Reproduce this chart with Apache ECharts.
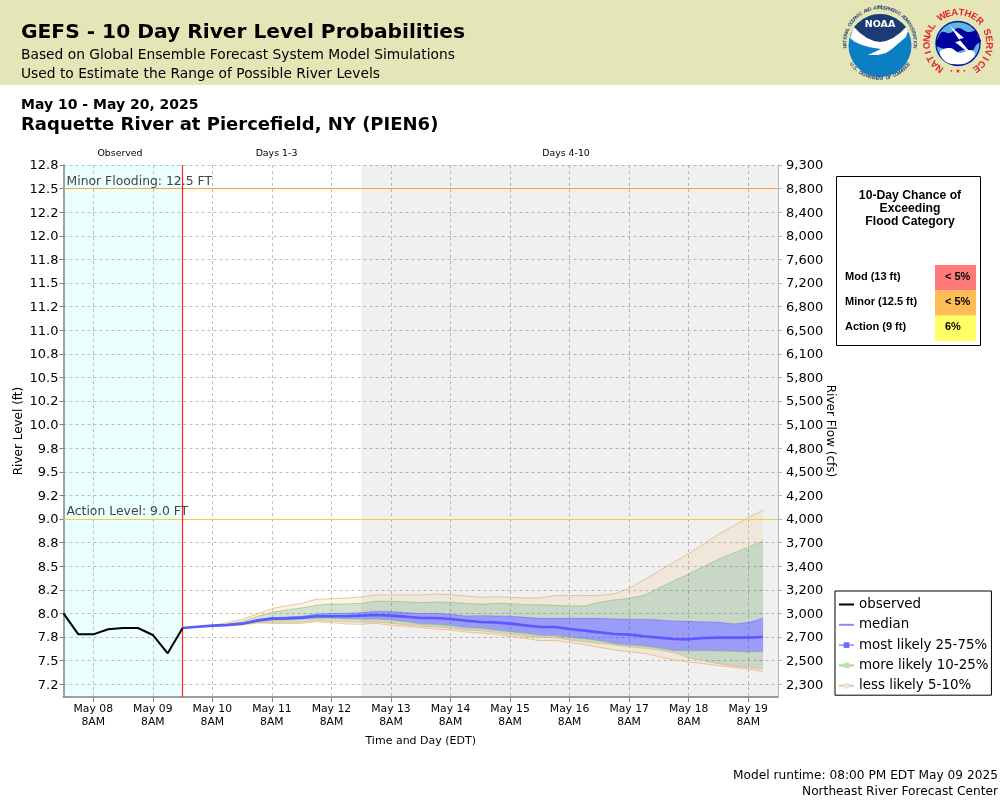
<!DOCTYPE html>
<html>
<head>
<meta charset="utf-8">
<title>GEFS - 10 Day River Level Probabilities</title>
<script src="https://cdn.jsdelivr.net/npm/echarts@6/dist/echarts.min.js"></script>
<style>
html, body { margin: 0; padding: 0; background: #fff; }
#chart { width: 1000px; height: 800px; }
</style>
</head>
<body>
<div id="chart"></div>
<script>
// river level ticks, the labels are rounded the way the original plot does it
var levelTicks = [12.75, 12.5, 12.25, 12, 11.75, 11.5, 11.25, 11, 10.75, 10.5, 10.25, 10, 9.75, 9.5, 9.25, 9, 8.75, 8.5, 8.25, 8, 7.75, 7.5, 7.25];
var levelLabels = ['12.8', '12.5', '12.2', '12.0', '11.8', '11.5', '11.2', '11.0', '10.8', '10.5', '10.2', '10.0', '9.8', '9.5', '9.2', '9.0', '8.8', '8.5', '8.2', '8.0', '7.8', '7.5', '7.2'];
var flowLabels = ['9,300', '8,800', '8,400', '8,000', '7,600', '7,200', '6,800', '6,500', '6,100', '5,800', '5,500', '5,100', '4,800', '4,500', '4,200', '4,000', '3,700', '3,400', '3,200', '3,000', '2,700', '2,500', '2,300'];

// x is a 6 hourly category axis from May 07 8PM to May 19 8PM EDT, the day ticks fall on 8AM
var dayLabels = ['May 08', 'May 09', 'May 10', 'May 11', 'May 12', 'May 13', 'May 14', 'May 15', 'May 16', 'May 17', 'May 18', 'May 19'];
var stepCount = 49;
var runtimeStep = 8;
var days13EndStep = 20;

// 6 hourly
var observed = [8.0, 7.778, 7.778, 7.831, 7.845, 7.845, 7.771, 7.577, 7.845];
var p95 = [7.845, 7.859, 7.873, 7.902, 7.937, 7.993, 8.050, 8.082, 8.106, 8.149, 8.156, 8.163, 8.174, 8.195, 8.195, 8.195, 8.195, 8.205, 8.198, 8.184, 8.170, 8.177, 8.170, 8.163, 8.163, 8.188, 8.188, 8.188, 8.191, 8.205, 8.265, 8.354, 8.449, 8.541, 8.633, 8.735, 8.837, 8.926, 9.014, 9.095];
var p90 = [7.845, 7.859, 7.873, 7.888, 7.912, 7.965, 8.011, 8.036, 8.057, 8.085, 8.099, 8.099, 8.106, 8.128, 8.128, 8.121, 8.113, 8.121, 8.117, 8.106, 8.096, 8.106, 8.103, 8.092, 8.092, 8.085, 8.078, 8.078, 8.117, 8.142, 8.159, 8.191, 8.269, 8.343, 8.417, 8.495, 8.573, 8.636, 8.700, 8.767];
var p75 = [7.845, 7.859, 7.873, 7.884, 7.898, 7.933, 7.955, 7.962, 7.969, 7.993, 8.000, 8.000, 8.008, 8.022, 8.018, 8.008, 7.997, 8.000, 7.990, 7.972, 7.976, 7.972, 7.969, 7.958, 7.947, 7.947, 7.947, 7.947, 7.947, 7.940, 7.937, 7.937, 7.930, 7.919, 7.916, 7.909, 7.905, 7.888, 7.902, 7.947];
var p50 = [7.845, 7.859, 7.870, 7.877, 7.891, 7.923, 7.944, 7.947, 7.955, 7.969, 7.969, 7.969, 7.976, 7.983, 7.976, 7.965, 7.951, 7.951, 7.940, 7.923, 7.909, 7.905, 7.891, 7.873, 7.856, 7.856, 7.835, 7.817, 7.799, 7.782, 7.775, 7.757, 7.743, 7.729, 7.725, 7.739, 7.743, 7.743, 7.743, 7.750];
var p25 = [7.845, 7.856, 7.866, 7.873, 7.884, 7.912, 7.926, 7.930, 7.937, 7.947, 7.947, 7.940, 7.937, 7.940, 7.930, 7.912, 7.888, 7.884, 7.870, 7.849, 7.842, 7.824, 7.806, 7.789, 7.767, 7.764, 7.746, 7.732, 7.711, 7.679, 7.665, 7.654, 7.633, 7.605, 7.605, 7.605, 7.602, 7.598, 7.591, 7.594];
var p10 = [7.845, 7.856, 7.863, 7.870, 7.880, 7.905, 7.905, 7.905, 7.909, 7.926, 7.919, 7.912, 7.905, 7.909, 7.895, 7.880, 7.866, 7.859, 7.845, 7.824, 7.817, 7.799, 7.778, 7.760, 7.746, 7.746, 7.718, 7.700, 7.683, 7.665, 7.647, 7.630, 7.612, 7.584, 7.531, 7.499, 7.467, 7.443, 7.428, 7.411];
var p5 = [7.845, 7.856, 7.859, 7.866, 7.877, 7.898, 7.895, 7.891, 7.895, 7.912, 7.902, 7.888, 7.884, 7.895, 7.873, 7.863, 7.849, 7.835, 7.824, 7.803, 7.792, 7.778, 7.757, 7.736, 7.711, 7.714, 7.690, 7.669, 7.640, 7.612, 7.594, 7.577, 7.541, 7.506, 7.485, 7.467, 7.446, 7.428, 7.411, 7.383];

var floodRows = ['Mod (13 ft)', 'Minor (12.5 ft)', 'Action (9 ft)'];
var floodChance = ['< 5%', '< 5%', '6%'];
var floodColors = ['#ff7b7b', '#ffbb55', '#ffff66'];

var SANS = 'DejaVu Sans';

// category names are just the step numbers, every 4th step from 2 is a labelled day
var steps = [];
for (var s = 0; s < stepCount; s++)
	steps.push(String(s));
function isDayTick(index) {
	return index % 4 === 2;
}

function pairs(start, values) {
	return values.map(function (v, i) { return [start + i, v]; });
}
// a stacked band is the difference of two percentile lines
function band(upper, lower) {
	return upper.map(function (v, i) { return [runtimeStep + i, v - lower[i]]; });
}
function bandSeries(name, upper, lower, fill, edge) {
	return {
		name: name, type: 'line', stack: 'spread', data: band(upper, lower), symbol: 'rect', symbolSize: 6, showSymbol: false,
		silent: true, z: 3, lineStyle: { color: edge, width: 1 }, itemStyle: { color: edge }, areaStyle: { color: fill, opacity: 1 }
	};
}

var BLUE_FILL = 'rgba(60,60,255,0.48)', BLUE_EDGE = 'rgba(90,90,255,0.45)';
var GREEN_FILL = 'rgba(85,140,70,0.25)', GREEN_EDGE = 'rgba(120,190,100,0.55)';
var TAN_FILL = 'rgba(240,190,130,0.2)', TAN_EDGE = 'rgba(225,180,130,0.75)';

// ---- page furniture
function txt(x, y, text, size, weight, extra) {
	var style = { x: x, y: y, text: text, fontFamily: SANS, fontSize: size, fontWeight: weight || 'normal', fill: '#000', verticalAlign: 'middle' };
	for (var k in (extra || {})) style[k] = extra[k];
	return { type: 'text', silent: true, z: 20, style: style };
}
// single letters around a circle, the angle is in degrees clockwise from twelve o'clock
function arcText(cx, cy, r, text, a0, a1, size, color, family) {
	var out = [];
	for (var i = 0; i < text.length; i++) {
		var a = a0 + (a1 - a0) * (i + 0.5) / text.length;
		var rad = a * Math.PI / 180;
		out.push({
			type: 'text', silent: true, z: 22, x: cx + r * Math.sin(rad), y: cy - r * Math.cos(rad),
			rotation: -(a1 < a0 ? rad - Math.PI : rad),
			style: { text: text.charAt(i), x: 0, y: 0, fontFamily: family, fontSize: size, fontWeight: 'bold', fill: color, align: 'center', verticalAlign: 'middle' }
		});
	}
	return out;
}
function poly(points, fill, z, smooth) {
	return { type: 'polygon', silent: true, z: z || 21, shape: { points: points, smooth: smooth || 0 }, style: { fill: fill } };
}

var graphics = [
	{ type: 'rect', silent: true, z: 0, shape: { x: 0, y: 0, width: 1000, height: 85 }, style: { fill: '#e5e6b8' } },
	txt(21, 33, 'GEFS - 10 Day River Level Probabilities', 20.2, 'bold'),
	txt(21, 55, 'Based on Global Ensemble Forecast System Model Simulations', 13.8),
	txt(21, 74, 'Used to Estimate the Range of Possible River Levels', 13.8),
	txt(21, 105, 'May 10 - May 20, 2025', 14, 'bold'),
	txt(21, 125.5, 'Raquette River at Piercefield, NY (PIEN6)', 18, 'bold'),
	txt(120, 154, 'Observed', 9.4, 'normal', { align: 'center' }),
	txt(276.5, 154, 'Days 1-3', 9.4, 'normal', { align: 'center' }),
	txt(566, 154, 'Days 4-10', 9.4, 'normal', { align: 'center' }),
	txt(998, 775.5, 'Model runtime: 08:00 PM EDT May 09 2025', 12.2, 'normal', { align: 'right' }),
	txt(998, 791.5, 'Northeast River Forecast Center', 12.2, 'normal', { align: 'right' }),
	// flood category box
	{ type: 'rect', silent: true, z: 10, shape: { x: 836.5, y: 176.5, width: 144, height: 169 }, style: { fill: '#fff', stroke: '#000', lineWidth: 1 } }
];
['10-Day Chance of', 'Exceeding', 'Flood Category'].forEach(function (line, i) {
	graphics.push(txt(910, 196 + i * 13, line, 12.2, 'bold', { align: 'center', fontFamily: 'Liberation Sans' }));
});
floodRows.forEach(function (row, i) {
	var top = 265 + i * 25.2;
	graphics.push({ type: 'rect', silent: true, z: 11, shape: { x: 935, y: top, width: 41, height: 25.5 }, style: { fill: floodColors[i] } });
	graphics.push(txt(845, top + 11.5, row, 11, 'bold', { fontFamily: 'Liberation Sans' }));
	graphics.push(txt(945, top + 11.5, floodChance[i], 11, 'bold', { fontFamily: 'Liberation Sans' }));
});

// NOAA seal
graphics.push({ type: 'circle', silent: true, z: 21, shape: { cx: 880, cy: 45.5, r: 31.5 }, style: { fill: '#0a7fc4' } });
graphics.push(poly([[854, 27], [852.5, 31], [850, 38], [855, 42], [862, 45], [871, 47.5], [881, 49], [868, 55], [878, 55], [886, 53], [892, 49], [900, 42], [906, 37], [908, 31], [906, 27]], '#fff', 22));
graphics.push(poly([[854, 27], [858, 23], [864, 18.5], [872, 15], [880, 14], [888, 15], [896, 18.5], [902, 23], [906, 27], [900, 33], [893, 38], [886, 41], [880, 42], [874, 41], [867, 38], [860, 33]], '#1e3a74', 23));
graphics.push({ type: 'text', silent: true, z: 24, style: { x: 880, y: 25, text: 'NOAA', fontFamily: SANS, fontWeight: 'bold', fontSize: 9.5, fill: '#fff', align: 'center', verticalAlign: 'middle' } });
graphics = graphics.concat(arcText(880, 43, 35, 'NATIONAL OCEANIC AND ATMOSPHERIC ADMINISTRATION', -98, 98, 5, '#3b4c78', 'Liberation Sans'));
graphics = graphics.concat(arcText(880, 43, 35.5, 'U.S. DEPARTMENT OF COMMERCE', 235, 125, 5, '#3b4c78', 'Liberation Sans'));

// NWS seal
graphics.push({ type: 'circle', silent: true, z: 21, shape: { cx: 958, cy: 43.5, r: 22 }, style: { fill: '#5cb6dd', stroke: '#14149a', lineWidth: 1.4 } });
graphics.push(poly([[938, 38], [942, 32], [950, 33], [958, 28], [968, 32], [976, 31], [978, 37], [981, 41], [976, 45], [973, 50], [964, 50], [952, 53], [944, 49], [936, 45]], '#00009c', 22, 0.4));
graphics.push(poly([[940, 52], [950, 48], [960, 53], [970, 50], [975, 54], [968, 62], [958, 64], [946, 62]], '#fff', 22, 0.4));
graphics.push(poly([[950, 26], [964, 38], [959, 39], [975, 58], [955, 42], [960, 41]], '#fff', 23));
graphics = graphics.concat(arcText(958, 43.5, 31, 'NATIONAL WEATHER SERVICE', -150, 150, 9.5, '#e2232a', 'Liberation Sans'));
graphics.push({ type: 'text', silent: true, z: 22, style: { x: 958, y: 71, text: '\u2022 \u2605 \u2022', fontFamily: SANS, fontSize: 6, fill: '#e2232a', align: 'center', verticalAlign: 'middle' } });

// ---- chart
var chart = echarts.init(document.getElementById('chart'));
var gridLine = { show: true, lineStyle: { color: '#c0c0c0', type: [3, 3], width: 1 } };
var axisColor = '#808080';
// rich text so the labels can sit a pixel lower, on the tick
var tickRich = { t: { fontSize: 13, color: '#000', padding: [2, 0, 0, 0] } };

chart.setOption({
	animation: false,
	textStyle: { fontFamily: SANS },
	graphic: graphics,
	grid: { left: 63.5, right: 222, top: 165, bottom: 103, containLabel: false, outerBoundsMode: 'none' },
	xAxis: {
		type: 'category', data: steps, boundaryGap: false,
		name: 'Time and Day (EDT)', nameLocation: 'middle', nameGap: 39, nameTextStyle: { color: '#000', fontSize: 11 },
		axisLine: { lineStyle: { color: axisColor, width: 1.5 } },
		axisTick: { show: true, length: 5, interval: isDayTick, lineStyle: { color: axisColor } },
		splitLine: { show: true, interval: isDayTick, lineStyle: gridLine.lineStyle },
		axisLabel: {
			interval: isDayTick, color: '#000', fontSize: 10.8, lineHeight: 13, margin: 6, hideOverlap: false,
			formatter: function (value) { return dayLabels[(+value - 2) / 4] + '\n8AM'; }
		}
	},
	yAxis: [{
		type: 'value', min: 7.114, max: 12.75, position: 'left',
		name: 'River Level (ft)', nameLocation: 'middle', nameGap: 39, nameMoveOverlap: false, nameTextStyle: { color: '#000', fontSize: 12 },
		axisLine: { show: true, lineStyle: { color: axisColor, width: 1.5 } },
		axisTick: { show: true, length: 4, customValues: levelTicks, lineStyle: { color: axisColor } },
		splitLine: gridLine,
		axisLabel: {
			customValues: levelTicks, margin: 5, rich: tickRich,
			formatter: function (value) { return '{t|' + levelLabels[levelTicks.indexOf(value)] + '}'; }
		}
	}, {
		type: 'value', min: 7.114, max: 12.75, position: 'right',
		name: 'River Flow (cfs)', nameLocation: 'middle', nameGap: 46, nameMoveOverlap: false, nameRotate: -90, nameTextStyle: { color: '#000', fontSize: 12 },
		axisLine: { show: true, lineStyle: { color: '#b5b5b5', width: 1 } },
		axisTick: { show: true, length: 4, customValues: levelTicks, lineStyle: { color: '#b5b5b5' } },
		splitLine: { show: false },
		axisLabel: {
			customValues: levelTicks, margin: 8, rich: tickRich,
			formatter: function (value) { return '{t|' + flowLabels[levelTicks.indexOf(value)] + '}'; }
		}
	}],
	legend: {
		show: true, orient: 'vertical', left: 835, top: 591,
		data: [
			{ name: 'observed', itemStyle: { opacity: 0 } },
			{ name: 'median', itemStyle: { opacity: 0 }, lineStyle: { color: '#8a8aff', width: 2 } },
			{ name: 'most likely 25-75%', itemStyle: { color: '#6a6aff' }, lineStyle: { color: '#a5a5ff', width: 2 } },
			{ name: 'more likely 10-25%', itemStyle: { color: '#bfe0b5' }, lineStyle: { color: '#a8d59a', width: 2 } },
			{ name: 'less likely 5-10%', itemStyle: { color: '#f0e4d6' }, lineStyle: { color: '#e3c9aa', width: 2 } }
		],
		backgroundColor: '#fff', borderColor: '#000', borderWidth: 1, padding: [7, 3, 3, 3],
		itemWidth: 15, itemHeight: 7, itemGap: 7.3, selectedMode: false,
		textStyle: { color: '#000', fontSize: 13.4, fontFamily: SANS }
	},
	series: [
		{
			name: 'observed', type: 'line', data: pairs(0, observed), symbol: 'none', z: 6,
			lineStyle: { color: '#000', width: 2 }, itemStyle: { color: '#000' },
			markArea: {
				silent: true,
				data: [
					[{ xAxis: 0, itemStyle: { color: 'rgba(0,255,255,0.08)' } }, { xAxis: runtimeStep }],
					[{ xAxis: days13EndStep, itemStyle: { color: 'rgba(0,0,0,0.06)' } }, { xAxis: stepCount - 1 }]
				]
			},
			markLine: {
				silent: true, symbol: 'none', animation: false,
				data: [
					{ yAxis: 12.5, lineStyle: { color: '#ff9f3d', width: 1.2, type: 'solid' }, label: { show: true, position: 'insideStartTop', formatter: 'Minor Flooding: 12.5 FT', color: '#444', fontSize: 12.4, distance: [3, 1] } },
					{ yAxis: 9, lineStyle: { color: '#f5cc45', width: 1.2, type: 'solid' }, label: { show: true, position: 'insideStartTop', formatter: 'Action Level: 9.0 FT', color: '#444', fontSize: 12.4, distance: [3, 1] } },
					{ xAxis: runtimeStep, lineStyle: { color: '#ff2020', width: 1.2, type: 'solid' }, label: { show: false } }
				]
			}
		},
		{ name: 'base', type: 'line', stack: 'spread', data: pairs(runtimeStep, p5), symbol: 'none', silent: true, z: 3, lineStyle: { color: TAN_EDGE, width: 1 } },
		bandSeries('less likely 5-10%', p10, p5, TAN_FILL, TAN_EDGE),
		bandSeries('more likely 10-25%', p25, p10, GREEN_FILL, GREEN_EDGE),
		bandSeries('most likely 25-75%', p75, p25, BLUE_FILL, BLUE_EDGE),
		bandSeries('more likely 10-25%', p90, p75, GREEN_FILL, GREEN_EDGE),
		bandSeries('less likely 5-10%', p95, p90, TAN_FILL, TAN_EDGE),
		{ name: 'median', type: 'line', data: pairs(runtimeStep, p50), symbol: 'none', z: 5, lineStyle: { color: '#5a5aff', width: 2.6 }, itemStyle: { color: '#8a8aff' } }
	]
});
</script>
</body>
</html>
